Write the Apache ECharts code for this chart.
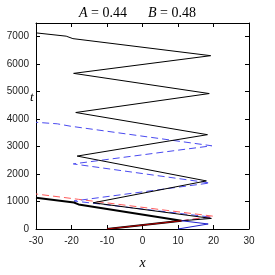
<!DOCTYPE html>
<html>
<head>
<meta charset="utf-8">
<script src="https://cdn.jsdelivr.net/npm/echarts@6/dist/echarts.min.js"></script>
<style>html,body{margin:0;padding:0;background:#fff}#c{width:275px;height:275px}</style>
</head>
<body>
<div id="c"></div>
<script>
// Axis ticks
const xTicks = [-30, -20, -10, 0, 10, 20, 30];
const tTicks = [0, 1000, 2000, 3000, 4000, 5000, 6000, 7000];

// Black thin trajectory
const blackThinX = [11, 19.4, -13.9, 18, -18.4, 18.3, -18.8, 18.8, -19.4, 19.2, -19.6, -21.5, -30];
const blackThinT = [300, 385, 955, 1750, 2655, 3434, 4241, 4931, 5666, 6310, 6931, 7021, 7140];

// Black thick trajectory
const blackThickX = [-10, 11, -18, -19.3, -30];
const blackThickT = [0, 300, 896, 966, 1138];

// Red solid segment
const redSolidX = [-10, 11];
const redSolidT = [0, 300];

// Red dashed trajectory
const redDashX = [11, 20, -18, -30];
const redDashT = [300, 465, 1080, 1275];

// Blue solid segment
const blueSolidX = [10, 18.5, 11];
const blueSolidT = [0, 183, 300];

// Blue dashed trajectory
const blueDashX = [11, 19.5, -19.3, 19, -19.5, 19.5, -20.4, -24, -30];
const blueDashT = [300, 430, 1020, 1676, 2370, 3030, 3745, 3830, 3885];

function pairs(xs, ts) { return xs.map((x, i) => [x, ts[i]]); }

const chart = echarts.init(document.getElementById('c'), null, {renderer: 'canvas'});

function lineSeries(xs, ts, color, width, type, z) {
  return {
    type: 'line', data: pairs(xs, ts), showSymbol: false, symbol: 'none',
    lineStyle: {color: color, width: width, type: type}, z: z,
    animation: false
  };
}

const tickStyle = {show: true, inside: true, length: 4, lineStyle: {color: '#000', width: 1}};
const lblStyle = {color: '#222', fontFamily: 'Liberation Sans', fontSize: 10, hideOverlap: false, formatter: v => String(v)};
const axisLineStyle = {show: true, onZero: false, lineStyle: {color: '#000', width: 1}};

chart.setOption({
  animation: false,
  backgroundColor: '#fff',
  title: {
    text: '{i|A}{n| = 0.44      }{i|B}{n| = 0.48}',
    left: 'center', top: 1,
    textStyle: {
      fontWeight: 'normal',
      rich: {
        i: {fontFamily: 'Liberation Serif', fontStyle: 'italic', fontWeight: 'normal', fontSize: 14, color: '#000'},
        n: {fontFamily: 'Liberation Serif', fontWeight: 'normal', fontSize: 14, color: '#000'}
      }
    }
  },
  grid: {left: 36, right: 26, top: 23, bottom: 35, show: false},
  xAxis: [{
    type: 'value', min: -30, max: 30, interval: 10, position: 'bottom',
    axisLine: axisLineStyle, axisTick: tickStyle,
    splitLine: {show: false},
    axisLabel: Object.assign({margin: 7}, lblStyle),
    name: 'x', nameLocation: 'middle', nameGap: 27,
    nameTextStyle: {fontFamily: 'Liberation Serif', fontStyle: 'italic', fontSize: 14, color: '#000'}
  }, {
    type: 'value', min: -30, max: 30, interval: 10, position: 'top',
    axisLine: axisLineStyle, axisTick: tickStyle,
    splitLine: {show: false}, axisLabel: {show: false}
  }],
  yAxis: [{
    type: 'value', min: 0, max: 7500, interval: 1000, position: 'left',
    axisLine: axisLineStyle, axisTick: tickStyle,
    splitLine: {show: false},
    axisLabel: Object.assign({margin: 7, showMaxLabel: false}, lblStyle)
  }, {
    type: 'value', min: 0, max: 7500, interval: 1000, position: 'right',
    axisLine: axisLineStyle, axisTick: tickStyle,
    splitLine: {show: false}, axisLabel: {show: false}
  }],
  graphic: [{
    type: 'text', x: 30, y: 104, z: 10,
    style: {text: 't', font: 'italic 13px "Liberation Serif"', fill: '#000', textVerticalAlign: 'bottom'}
  }],
  series: [
    lineSeries(blueDashX, blueDashT, '#4a4af0', 1, [7, 4], 2),
    lineSeries(redDashX, redDashT, '#ff5a5a', 1, [7, 4], 2),
    lineSeries(blackThinX, blackThinT, '#000', 1, 'solid', 3),
    lineSeries(blackThickX, blackThickT, '#000', 2, 'solid', 4),
    lineSeries(blueSolidX, blueSolidT, '#2222cc', 1, 'solid', 5),
    lineSeries(redSolidX, redSolidT, '#b00000', 1.2, 'solid', 6)
  ]
});
</script>
</body>
</html>
